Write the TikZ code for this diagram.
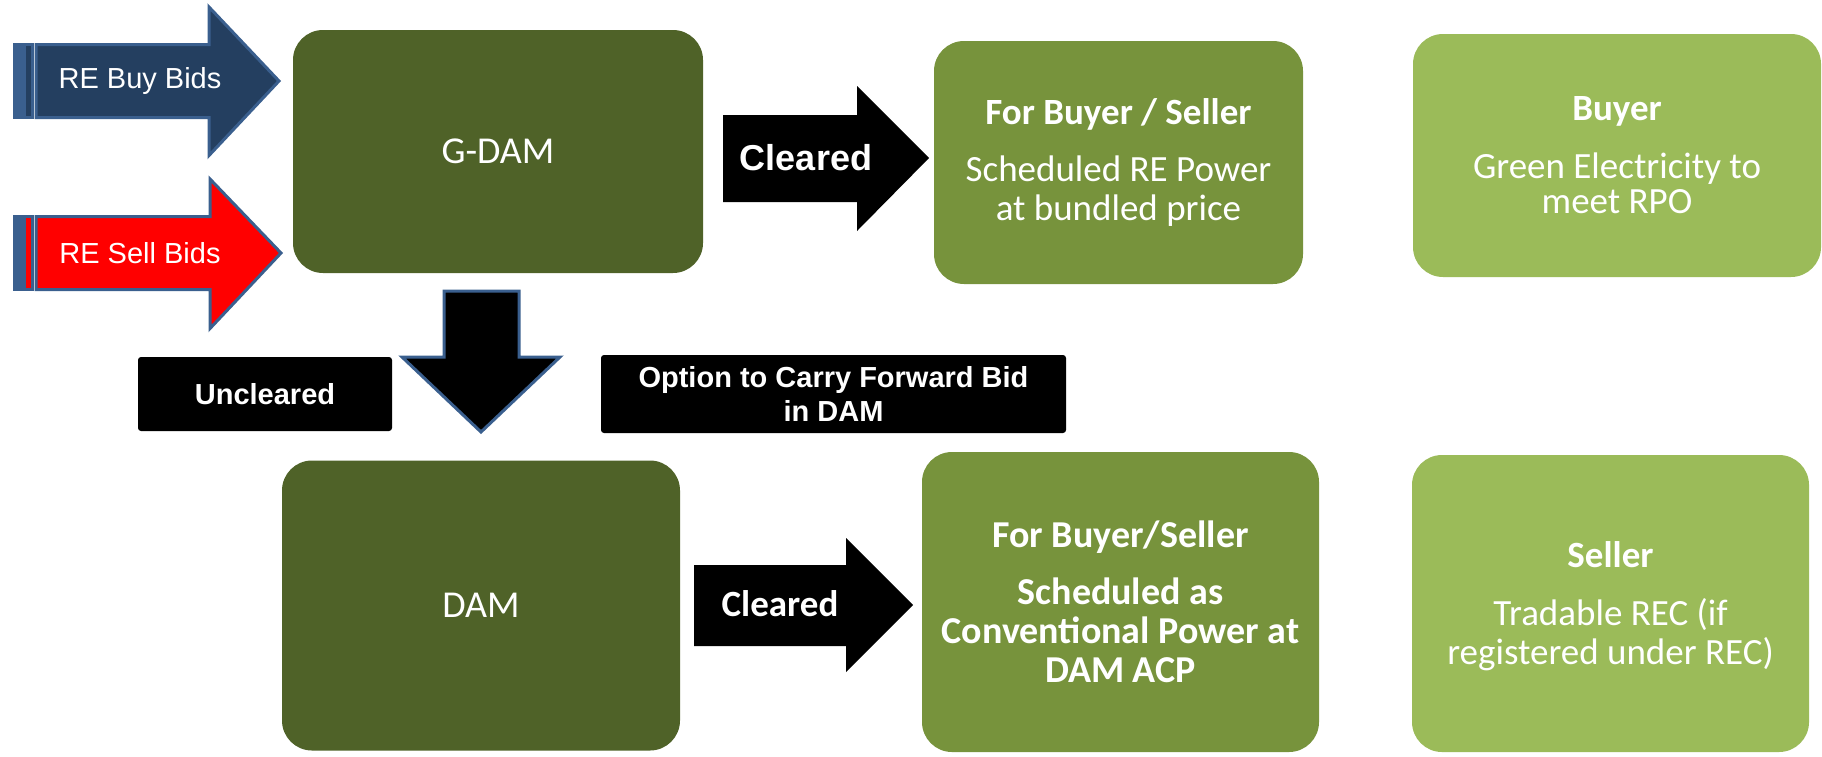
\documentclass[tikz,border=0pt]{standalone}
\usepackage{fontspec}
\setmainfont{Carlito}
\newfontfamily\arialfont{Liberation Sans}
\usepackage{xcolor}
\usetikzlibrary{positioning}
\definecolor{damgreen}{HTML}{4F6228}
\definecolor{midgreen}{HTML}{77933C}
\definecolor{litegreen}{HTML}{9BBB59}
\definecolor{arrowblue}{HTML}{3A5F8E}
\definecolor{navy}{HTML}{243F60}

\begin{document}
\begin{tikzpicture}[x=1pt,y=-1pt,
  mkt/.style={rounded corners=30pt,fill=damgreen,text=white,
    font=\fontsize{38}{43}\selectfont},
  res/.style={rounded corners=30pt,text=white,align=center,
    font=\fontsize{37}{39}\selectfont},
  tag/.style={fill=black,rounded corners=3pt,text=white,align=center,
    font=\arialfont\bfseries\fontsize{29}{34}\selectfont},
  bid/.style={draw=arrowblue,line width=3pt,line join=miter},
  bidtxt/.style={text=white,font=\arialfont\fontsize{29}{34}\selectfont},
]
  \useasboundingbox (0,0) rectangle (1822,756);

  % market boxes
  \node[mkt,minimum width=410pt,minimum height=243pt] (gdam) at (498,151.5) {G-DAM};
  \node[mkt,minimum width=398pt,minimum height=290pt] (dam) at (481,605.5) {DAM};

  % outcome boxes
  \node[res,fill=midgreen,minimum width=369pt,minimum height=243pt] (gres) at (1118.5,162.5)
    {\textbf{For Buyer / Seller}\\[18pt]Scheduled RE Power\\at bundled price};
  \node[res,fill=litegreen,minimum width=408pt,minimum height=243pt,font=\fontsize{37}{35}\selectfont] (buyer) at (1617,155.5)
    {\textbf{Buyer}\\[23pt]Green Electricity to\\meet RPO};
  \node[res,fill=midgreen,minimum width=397pt,minimum height=300pt,font=\bfseries\fontsize{38}{39}\selectfont] (dres) at (1120.5,602)
    {For Buyer/Seller\\[18pt]Scheduled as\\Conventional Power at\\DAM ACP};
  \node[res,fill=litegreen,minimum width=397pt,minimum height=297pt,text depth=0pt] (seller) at (1610.5,603.5)
    {\textbf{Seller}\\[19pt]Tradable REC (if\\registered under REC)};

  % bid arrows
  \filldraw[bid,fill=arrowblue] (14,44.5) rectangle (21,117.5);
  \filldraw[bid,fill=navy] (24.5,44.5) rectangle (32.5,117.5);
  \filldraw[bid,fill=navy] (36,44.5) -- (209,44.5) -- (209,7) -- (279,81) -- (209,155.5)
    -- (209,117.5) -- (36,117.5) -- cycle;
  \node[bidtxt] (buybids) at (140,81) {RE Buy Bids};

  \filldraw[bid,fill=arrowblue] (14,216.5) rectangle (21,289.5);
  \filldraw[bid,fill=red] (24.5,216.5) rectangle (32.5,289.5);
  \filldraw[bid,fill=red] (36,216.5) -- (210,216.5) -- (210,179) -- (281,253) -- (210,328.5)
    -- (210,289.5) -- (36,289.5) -- cycle;
  \node[bidtxt] (sellbids) at (140,253) {RE Sell Bids};

  % cleared arrows
  \fill (723,115) -- (857,115) -- (857,86) -- (929,158) -- (857,231) -- (857,202)
    -- (723,202) -- cycle;
  \node[text=white,font=\arialfont\bfseries\fontsize{36}{40}\selectfont] (gclr) at (806,158) {Cleared};
  \fill (694,565) -- (846,565) -- (846,538) -- (913,605) -- (846,672) -- (846,646)
    -- (694,646) -- cycle;
  \node[text=white,font=\bfseries\fontsize{37}{40}\selectfont] (dclr) at (780,604) {Cleared};

  % uncleared path
  \filldraw[bid,fill=black] (444,291) -- (519,291) -- (519,357) -- (560,357) -- (481,432)
    -- (402,357) -- (444,357) -- cycle;
  \node[tag,minimum width=254pt,minimum height=74pt] (uncl) at (265,394) {Uncleared};
  \node[tag,minimum width=465pt,minimum height=78pt] (carry) at (833.5,394)
    {Option to Carry Forward Bid\\in DAM};
\end{tikzpicture}
\end{document}
